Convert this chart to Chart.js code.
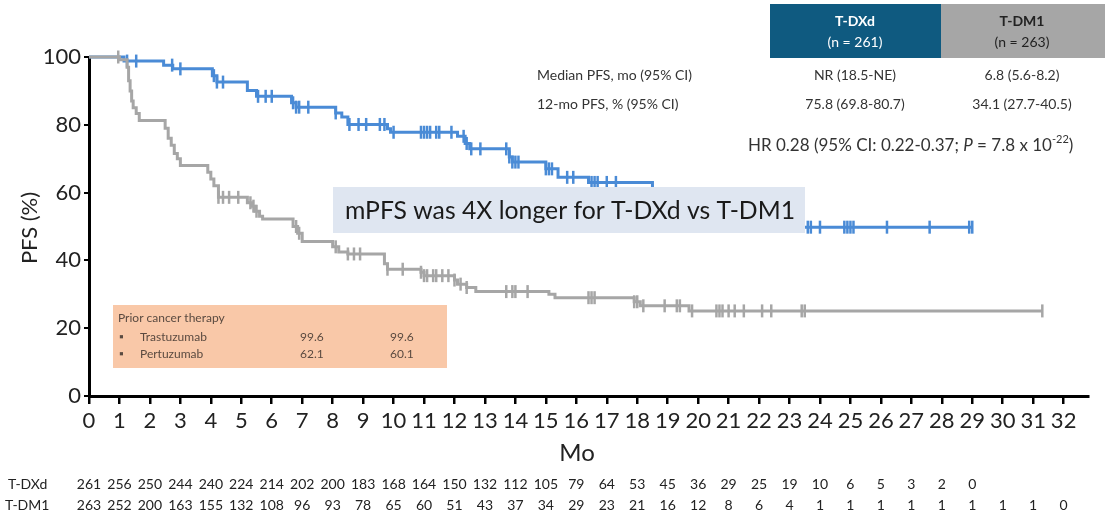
<!DOCTYPE html>
<html>
<head>
<meta charset="utf-8">
<script src="https://cdn.jsdelivr.net/npm/chart.js@4.4.1/dist/chart.umd.min.js"></script>
<style>
  html, body { margin: 0; padding: 0; background: #fff; }
  #wrap { width: 1106px; height: 519px; position: relative; }
</style>
</head>
<body>
<div id="wrap"><canvas id="km" width="1106" height="519"></canvas></div>
<script>
// KM step points (time in months, PFS % after the drop)
var dxdTimes = [0, 1.15, 2.45, 2.75, 4.05, 4.2, 5.2, 5.5, 6.65, 6.8, 8.1, 8.3, 8.5, 9.8, 9.9, 12.1, 12.35, 12.5, 13.8, 13.9, 15.0, 15.4, 16.4, 18.5, 19.3, 20.2, 21.0, 22.0, 22.8, 29.0];
var dxdSurv  = [100, 98.8, 97.6, 96.5, 94.5, 92.6, 90.1, 88.4, 86.5, 85.2, 83.5, 82.3, 80.1, 78.8, 77.8, 76.6, 74.5, 72.9, 70.5, 69.0, 67.0, 64.5, 63.0, 60.0, 57.0, 55.0, 53.0, 51.0, 49.8, 49.8];
var dm1Times = [0, 1.0, 1.25, 1.3, 1.35, 1.4, 1.45, 1.55, 1.65, 2.5, 2.6, 2.7, 2.8, 2.9, 3.0, 3.9, 4.0, 4.1, 4.25, 5.2, 5.35, 5.45, 5.6, 5.7, 6.7, 6.85, 7.0, 8.0, 8.2, 8.5, 9.7, 9.8, 10.9, 11.0, 12.0, 12.1, 12.4, 12.7, 15.1, 15.3, 17.9, 18.1, 19.7, 31.3];
var dm1Surv  = [100, 99.2, 97, 93, 90, 87, 85, 83.3, 81.3, 79, 76, 74, 71.5, 70, 68, 66, 64, 62, 58.6, 57, 56, 54.5, 53, 52.2, 50, 48, 45.6, 44, 42.5, 41.9, 39, 37.4, 36.5, 35.5, 34.2, 33, 32, 30.8, 30, 29, 27.8, 26.6, 25.1, 25.1];

// censoring times
var dxdCensor = [1.25, 1.55, 2.73, 3.0, 4.1, 4.2, 4.4, 5.55, 5.8, 6.0, 6.7, 6.8, 6.9, 7.2, 8.1, 8.55, 8.85, 9.1, 9.55, 9.7, 10.0, 10.9, 11.0, 11.1, 11.2, 11.4, 11.5, 11.9, 12.3, 12.4, 12.55, 12.85, 13.7, 13.8, 13.9, 14.0, 14.1, 15.0, 15.1, 15.2, 15.7, 15.9, 16.5, 16.6, 16.7, 17.0, 17.3, 23.6, 23.7, 24.0, 24.8, 24.9, 25.0, 25.1, 26.2, 27.6, 28.9, 29.0];
var dm1Censor = [0.96, 4.25, 4.4, 4.6, 4.9, 5.3, 5.4, 5.5, 6.8, 6.9, 8.1, 8.5, 8.7, 8.9, 9.8, 10.3, 10.9, 11.0, 11.1, 11.3, 11.4, 11.6, 11.8, 12.0, 12.2, 12.4, 13.7, 13.9, 14.0, 14.4, 16.4, 16.5, 16.6, 17.9, 18.0, 18.2, 18.9, 19.3, 19.4, 19.8, 20.6, 20.7, 20.8, 21.0, 21.2, 21.5, 22.1, 22.4, 23.4, 23.5, 31.3];

// numbers at risk, months 0..32
var riskMonths = [];
for (var m = 0; m <= 32; m++) riskMonths.push(m);
var dxdRisk = [261, 256, 250, 244, 240, 224, 214, 202, 200, 183, 168, 164, 150, 132, 112, 105, 79, 64, 53, 45, 36, 29, 25, 19, 10, 6, 5, 3, 2, 0];
var dm1Risk = [263, 252, 200, 163, 155, 132, 108, 96, 93, 78, 65, 60, 51, 43, 37, 34, 29, 23, 21, 16, 12, 8, 6, 4, 1, 1, 1, 1, 1, 1, 1, 1, 0];

var yTicks = [0, 20, 40, 60, 80, 100];

var blue = '#4a8bd6';
var grey = '#a6a6a6';

function pts(ts, vs) {
    return ts.map(function (t, i) { return { x: t, y: vs[i] }; });
}
function stepAt(ts, vs, t) {
    var v = vs[0];
    for (var i = 0; i < ts.length; i++) { if (ts[i] <= t) v = vs[i]; }
    return v;
}
function censorPts(cs, ts, vs) {
    return cs.map(function (t) { return { x: t, y: stepAt(ts, vs, t) }; });
}

var overlay = {
    id: 'overlay',
    afterDatasetsDraw: function (chart) {
        var ctx = chart.ctx;
        var xs = chart.scales.x;
        ctx.save();

        // top-right summary table
        ctx.fillStyle = '#0f5a80';
        ctx.fillRect(770, 4, 171, 54);
        ctx.fillStyle = '#a6a6a6';
        ctx.fillRect(941, 4, 164, 54);
        ctx.textAlign = 'center';
        ctx.textBaseline = 'middle';
        ctx.fillStyle = '#fff';
        ctx.font = 'bold 14px Lato';
        ctx.fillText('T-DXd', 855, 21);
        ctx.font = '14px Lato';
        ctx.fillText('(n = 261)', 855, 42);
        ctx.fillStyle = '#222';
        ctx.font = 'bold 14px Lato';
        ctx.fillText('T-DM1', 1022, 21);
        ctx.font = '14px Lato';
        ctx.fillText('(n = 263)', 1022, 42);

        ctx.fillStyle = '#333';
        ctx.font = '14px Lato';
        ctx.textAlign = 'left';
        ctx.fillText('Median PFS, mo (95% CI)', 537, 75);
        ctx.fillText('12-mo PFS, % (95% CI)', 537, 104);
        ctx.textAlign = 'center';
        ctx.fillText('NR (18.5-NE)', 855, 75);
        ctx.fillText('6.8 (5.6-8.2)', 1022, 75);
        ctx.fillText('75.8 (69.8-80.7)', 855, 104);
        ctx.fillText('34.1 (27.7-40.5)', 1022, 104);

        ctx.textAlign = 'left';
        ctx.font = '17px Lato';
        var hr = 'HR 0.28 (95% CI: 0.22-0.37; ';
        var x0 = 748;
        ctx.fillText(hr, x0, 146);
        x0 += ctx.measureText(hr).width;
        ctx.font = 'italic 17px Lato';
        ctx.fillText('P', x0, 146);
        x0 += ctx.measureText('P').width;
        ctx.font = '17px Lato';
        ctx.fillText(' = 7.8 x 10', x0, 146);
        x0 += ctx.measureText(' = 7.8 x 10').width;
        ctx.font = '11px Lato';
        ctx.fillText('-22', x0, 139);
        x0 += ctx.measureText('-22').width;
        ctx.font = '17px Lato';
        ctx.fillText(')', x0, 146);

        // highlight box
        ctx.fillStyle = '#dfe6f1';
        ctx.fillRect(333, 187, 472, 46);
        ctx.fillStyle = '#1a1a1a';
        ctx.font = '25px Lato';
        ctx.textAlign = 'left';
        ctx.fillText('mPFS was 4X longer for T-DXd vs T-DM1', 345, 211, 450);

        // prior therapy box
        ctx.fillStyle = '#f9c8a8';
        ctx.fillRect(113, 305, 334, 63);
        ctx.fillStyle = '#5a4a40';
        ctx.font = '12px Lato';
        ctx.fillText('Prior cancer therapy', 118, 318);
        ctx.fillText('\u25AA', 119, 337);
        ctx.fillText('Trastuzumab', 140, 337);
        ctx.fillText('99.6', 300, 337);
        ctx.fillText('99.6', 390, 337);
        ctx.fillText('\u25AA', 119, 354);
        ctx.fillText('Pertuzumab', 140, 354);
        ctx.fillText('62.1', 300, 354);
        ctx.fillText('60.1', 390, 354);

        // axis titles
        ctx.fillStyle = '#222';
        ctx.font = '24px Lato';
        ctx.textAlign = 'center';
        ctx.fillText('Mo', 577, 453);
        ctx.save();
        ctx.translate(30, 228);
        ctx.rotate(-Math.PI / 2);
        ctx.font = '22px Lato';
        ctx.fillText('PFS (%)', 0, 0);
        ctx.restore();

        // numbers at risk
        ctx.font = '14px Lato';
        ctx.fillStyle = '#222';
        ctx.textAlign = 'left';
        ctx.fillText('T-DXd', 8, 484);
        ctx.fillText('T-DM1', 5, 505);
        ctx.textAlign = 'center';
        dxdRisk.forEach(function (n, i) {
            ctx.fillText(String(n), xs.getPixelForValue(riskMonths[i]), 484);
        });
        dm1Risk.forEach(function (n, i) {
            ctx.fillText(String(n), xs.getPixelForValue(riskMonths[i]), 505);
        });
        ctx.restore();
    }
};

new Chart(document.getElementById('km').getContext('2d'), {
    type: 'line',
    data: {
        datasets: [
            {
                label: 'T-DM1',
                data: pts(dm1Times, dm1Surv),
                stepped: 'before',
                borderColor: grey,
                borderWidth: 3,
                pointRadius: 0,
                fill: false,
                clip: 10
            },
            {
                label: 'T-DM1 censored',
                type: 'scatter',
                data: censorPts(dm1Censor, dm1Times, dm1Surv),
                pointStyle: 'line',
                rotation: 90,
                pointRadius: 6.5,
                borderColor: grey,
                borderWidth: 2.5,
                clip: 10
            },
            {
                label: 'T-DXd',
                data: pts(dxdTimes, dxdSurv),
                stepped: 'before',
                borderColor: blue,
                borderWidth: 3,
                pointRadius: 0,
                fill: false,
                clip: 10
            },
            {
                label: 'T-DXd censored',
                type: 'scatter',
                data: censorPts(dxdCensor, dxdTimes, dxdSurv),
                pointStyle: 'line',
                rotation: 90,
                pointRadius: 6.5,
                borderColor: blue,
                borderWidth: 2.5,
                clip: 10
            }
        ]
    },
    options: {
        responsive: false,
        animation: false,
        layout: { padding: { left: 0, right: 18, top: 57, bottom: 0 } },
        plugins: { legend: { display: false }, tooltip: { enabled: false } },
        scales: {
            x: {
                type: 'linear',
                min: 0,
                max: 32.8,
                afterFit: function (s) { s.height = 123; },
                afterBuildTicks: function (s) {
                    s.ticks = riskMonths.map(function (m) { return { value: m }; });
                },
                border: { color: '#000', width: 3 },
                grid: { drawOnChartArea: false, drawTicks: true, tickLength: 8, color: '#000', lineWidth: 2.5 },
                ticks: { autoSkip: false, maxRotation: 0, padding: 4, color: '#222', font: { family: 'Lato', size: 22 } }
            },
            y: {
                min: 0,
                max: 100,
                afterFit: function (s) { s.width = 89; },
                afterBuildTicks: function (s) {
                    s.ticks = yTicks.map(function (v) { return { value: v }; });
                },
                border: { color: '#000', width: 3 },
                grid: { drawOnChartArea: false, drawTicks: true, tickLength: 5, color: '#000', lineWidth: 2 },
                ticks: { padding: 3, color: '#222', font: { family: 'Lato', size: 22 } }
            }
        }
    },
    plugins: [overlay]
});
</script>
</body>
</html>
